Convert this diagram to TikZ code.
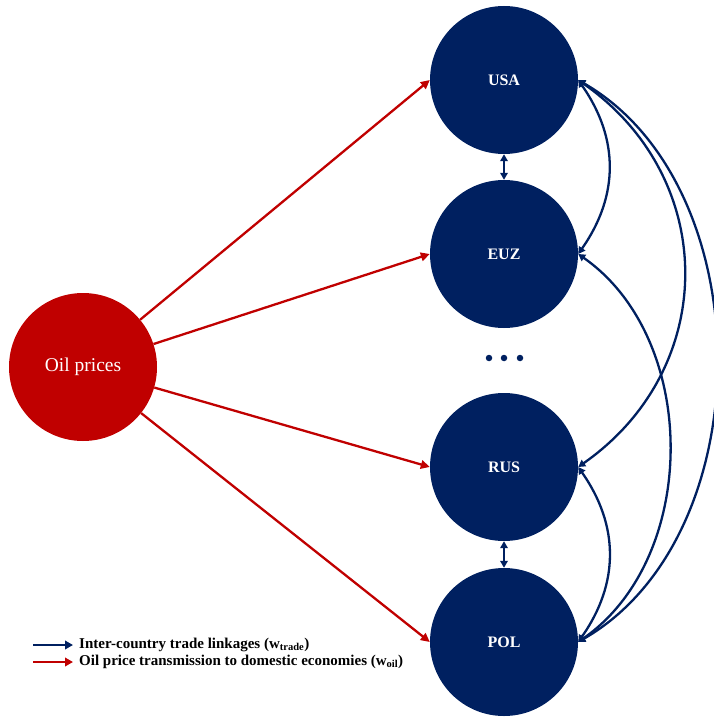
\documentclass[tikz,border=0pt]{standalone}
\usepackage{fontspec}
\setmainfont{Liberation Serif}
\usetikzlibrary{arrows.meta}
\definecolor{navy}{HTML}{002060}
\definecolor{oilred}{HTML}{C00000}
\begin{document}
\begin{tikzpicture}[x=1pt,y=-1pt,
  country/.style={circle,fill=navy,minimum size=148pt,inner sep=0pt,text=white,font=\fontsize{16}{18}\selectfont\bfseries},
  oilnode/.style={circle,fill=oilred,minimum size=148pt,inner sep=0pt,text=white,font=\fontsize{19.5}{21}\selectfont},
  redarrow/.style={draw=oilred,line width=2.3pt,-{Triangle[length=9pt,width=8.5pt]}},
  bluelink/.style={draw=navy,line width=2.3pt,{Triangle[length=7pt,width=7.5pt]}-{Triangle[length=7pt,width=7.5pt]}},
  legendtext/.style={anchor=west,font=\fontsize{15}{16}\selectfont\bfseries,inner sep=0pt},
  dotstyle/.style={circle,fill=navy,minimum size=6.5pt,inner sep=0pt}]
\useasboundingbox (0,0) rectangle (713,719);
\node[oilnode] (oil) at (83,367) {Oil prices};
\node[country] (usa) at (504,80) {USA};
\node[country] (euz) at (504,254) {EUZ};
\node[country] (rus) at (504,467) {RUS};
\node[country] (pol) at (504,642) {POL};
\node[dotstyle] (d1) at (489,358) {};
\node[dotstyle] (d2) at (504,358) {};
\node[dotstyle] (d3) at (520,358) {};
% red arrows
\draw[redarrow] (oil) -- (usa.west);
\draw[redarrow] (oil) -- (euz.west);
\draw[redarrow] (oil) -- (rus.west);
\draw[redarrow] (oil) -- (pol.west);
% vertical links
\draw[bluelink] (usa.south) -- (euz.north);
\draw[bluelink] (rus.south) -- (pol.north);
% curved links
\draw[bluelink] (usa.east) to[out=-55,in=55,looseness=1.05] (euz.east);
\draw[bluelink] (rus.east) to[out=-55,in=55,looseness=1.05] (pol.east);
\draw[bluelink] (usa.east) to[out=-35,in=35,looseness=1.14] (rus.east);
\draw[bluelink] (euz.east) to[out=-35,in=35,looseness=0.98] (pol.east);
\draw[bluelink] (usa.east) to[out=-30,in=30,looseness=0.97] (pol.east);
% legend
\coordinate (lb1) at (33,645);
\coordinate (lb2) at (73,645);
\coordinate (lr1) at (33,662);
\coordinate (lr2) at (73,662);
\draw[draw=navy,line width=2.3pt,-{Triangle[length=8pt,width=8.5pt]}] (lb1) -- (lb2);
\draw[redarrow,-{Triangle[length=8pt,width=8.5pt]}] (lr1) -- (lr2);
\node[legendtext] (lt1) at (79,645) {Inter-country trade linkages (w\textsubscript{trade})};
\node[legendtext] (lt2) at (79,662) {Oil price transmission to domestic economies (w\textsubscript{oil})};
\end{tikzpicture}
\end{document}
